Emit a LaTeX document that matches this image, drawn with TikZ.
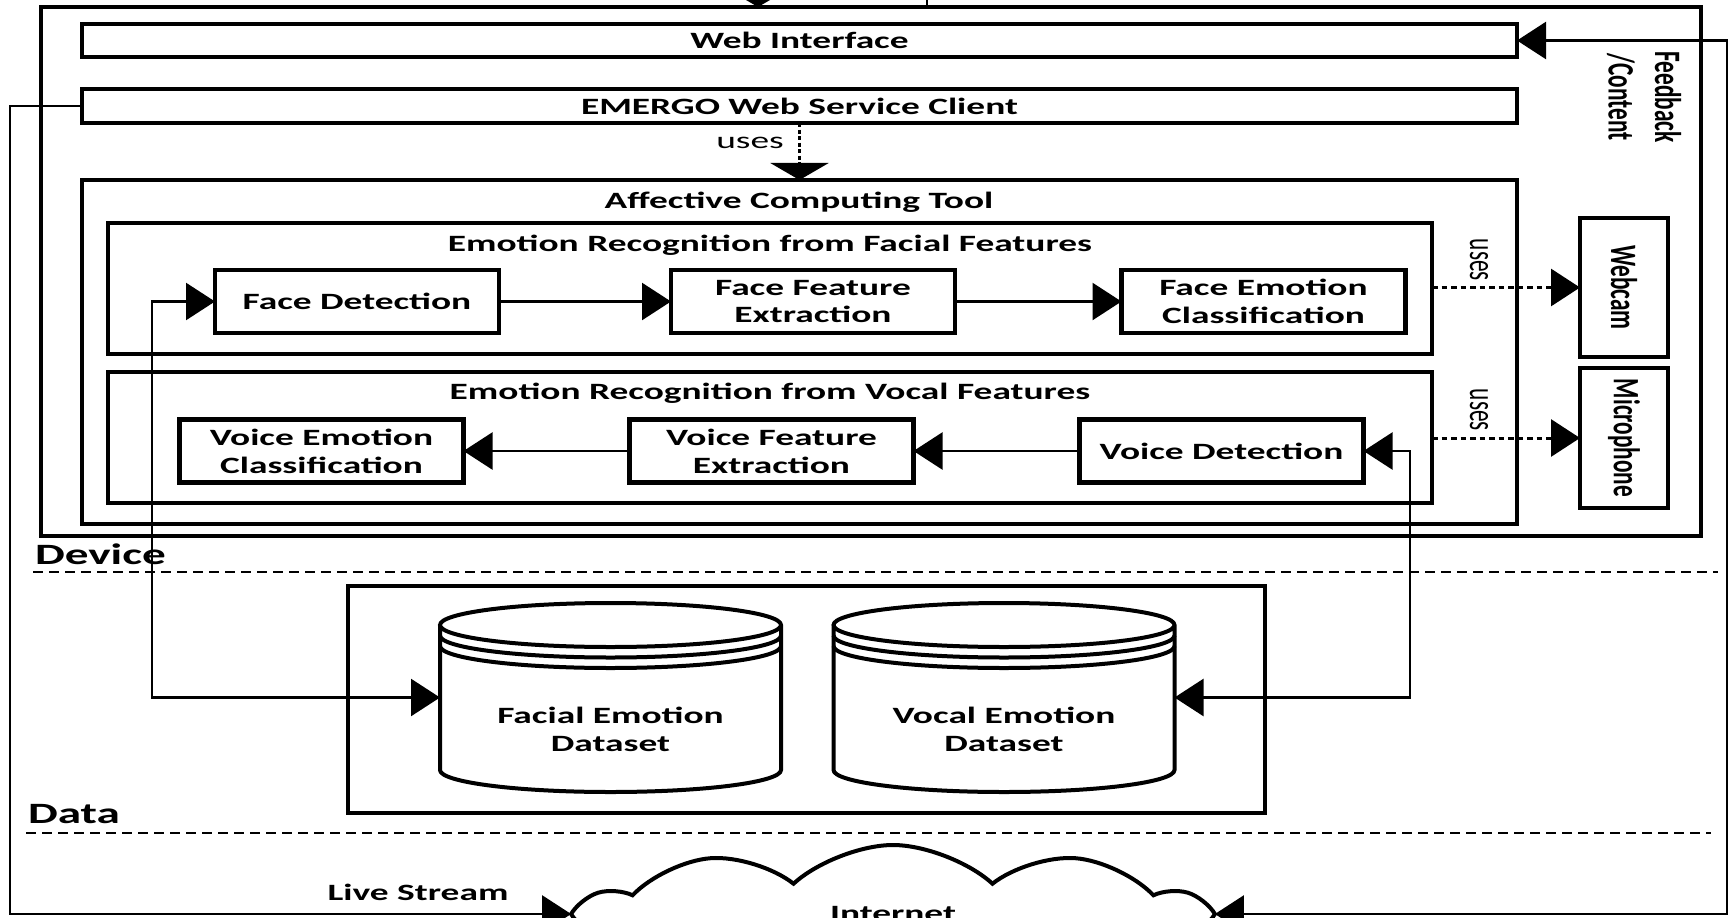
\documentclass[tikz,border=0pt]{standalone}
\usepackage{fontspec}
\setmainfont{Carlito}[FakeStretch=1.6]
\newfontfamily\rotfont{Carlito}[FakeStretch=0.625]
\usepackage{tikz}
\usetikzlibrary{shapes,arrows.meta}

% cylinder outline drawn round an (empty) dataset node
\newcommand{\dbshape}[1]{%
  \draw[dbline] ([yshift=-4.4mm]#1.north west) -- ([yshift=4.4mm]#1.south west)
    arc[start angle=180,end angle=360,x radius=34.1mm,y radius=4.4mm]
    -- ([yshift=-4.4mm]#1.north east)
    arc[start angle=0,end angle=180,x radius=34.1mm,y radius=4.4mm]
    arc[start angle=180,end angle=360,x radius=34.1mm,y radius=4.4mm];
  \draw[dbline] ([yshift=-6.5mm]#1.north west)
    arc[start angle=180,end angle=360,x radius=34.1mm,y radius=4.4mm];
  \draw[dbline] ([yshift=-8.6mm]#1.north west)
    arc[start angle=180,end angle=360,x radius=34.1mm,y radius=4.4mm];
}

\begin{document}
\begin{tikzpicture}[x=1mm,y=1mm,>={Triangle[length=5.8mm,width=7.4mm]}]
\tikzstyle{every node}=[font=\fontsize{13.3}{15.8}\selectfont\bfseries, inner sep=0pt, outer sep=0pt]
\tikzstyle{frame}=[draw, line width=0.9mm]
\tikzstyle{box}=[frame, align=center, minimum width=56.8mm, minimum height=12.6mm]
\tikzstyle{conn}=[line width=0.5mm]
\tikzstyle{usesline}=[line width=0.6mm, dash pattern=on 1.1mm off 0.8mm]
\tikzstyle{usesdot}=[line width=0.6mm, dash pattern=on 0.8mm off 0.5mm]
\tikzstyle{sepline}=[line width=0.35mm, dash pattern=on 2mm off 1.2mm]
\tikzstyle{dbline}=[line width=0.8mm]
\tikzstyle{dbase}=[minimum width=68.2mm, minimum height=37.8mm]
\tikzstyle{plain}=[font=\fontsize{13.3}{15.8}\selectfont]
\tikzstyle{rotplain}=[rotate=-90, font=\rotfont\fontsize{21.2}{26.5}\selectfont]
\tikzstyle{rotbold}=[rotate=-90, align=center, font=\rotfont\fontsize{21.2}{26.5}\selectfont\bfseries]
\tikzstyle{seclbl}=[anchor=west, font=\fontsize{16.8}{20}\selectfont\bfseries]
\tikzstyle{vtip}=[-{Triangle[length=3.4mm,width=11.6mm]}]

\useasboundingbox (0,0) rectangle (346.6,-183.4);

% device layer
\node[frame, minimum width=332mm, minimum height=105.8mm] (device) at (174.2,-54.3) {};
\node[frame, minimum width=287mm, minimum height=6.6mm] (webif) at (159.9,-8.1) {Web Interface};
\node[frame, minimum width=287mm, minimum height=6.8mm] (client) at (159.9,-21.2) {EMERGO Web Service Client};
\node[frame, minimum width=287mm, minimum height=68.8mm] (act) at (159.9,-70.4) {};
\node (acttitle) at (159.8,-40.4) {Affective Computing Tool};

\node[frame, minimum width=264.8mm, minimum height=26.2mm] (facial) at (154,-57.7) {};
\node (facialtitle) at (154,-49) {Emotion Recognition from Facial Features};
\node[box] (facedet) at (71.4,-60.3) {Face Detection};
\node[box] (facefeat) at (162.6,-60.3) {Face Feature\\Extraction};
\node[box] (faceemo) at (252.7,-60.3) {Face Emotion\\Classification};

\node[frame, minimum width=264.8mm, minimum height=26.2mm] (vocal) at (154,-87.5) {};
\node (vocaltitle) at (154,-78.6) {Emotion Recognition from Vocal Features};
\node[box] (voiceemo) at (64.3,-90.2) {Voice Emotion\\Classification};
\node[box] (voicefeat) at (154.3,-90.2) {Voice Feature\\Extraction};
\node[box] (voicedet) at (244.3,-90.2) {Voice Detection};

\node[frame, minimum width=17.6mm, minimum height=27.8mm] (webcam) at (324.8,-57.5) {};
\node[rotbold] (webcamtext) at (webcam.center) {Webcam};
\node[frame, minimum width=17.6mm, minimum height=28mm] (mic) at (324.8,-87.6) {};
\node[rotbold] (mictext) at (mic.center) {Microphone};

\draw[conn,->] (facedet) -- (facefeat);
\draw[conn,->] (facefeat) -- (faceemo);
\draw[conn,->] (voicedet) -- (voicefeat);
\draw[conn,->] (voicefeat) -- (voiceemo);

\draw[usesdot,vtip] (client.south) -- (act.north);
\node[plain] (usesact) at (150,-28.6) {uses};
\draw[usesline,->] (facial.east |- webcam.west) -- (webcam.west);
\node[rotplain] (usescam) at (295.8,-52) {uses};
\draw[usesline,->] (vocal.east |- mic.west) -- (mic.west);
\node[rotplain] (usesmic) at (295.8,-82) {uses};

% data layer
\node[seclbl] (devicelbl) at (7,-110.8) {Device};
\draw[sepline] (6.6,-114.4) -- (343.6,-114.4);
\node[frame, minimum width=183.4mm, minimum height=45.4mm] (datalayer) at (161.3,-139.9) {};
\node[dbase] (facialdb) at (122.1,-139.5) {};
\dbshape{facialdb}
\node[align=center] (facialdbtext) at ([yshift=-6.3mm]facialdb.center) {Facial Emotion\\Dataset};
\node[dbase] (vocaldb) at (200.8,-139.5) {};
\dbshape{vocaldb}
\node[align=center] (vocaldbtext) at ([yshift=-6.3mm]vocaldb.center) {Vocal Emotion\\Dataset};
\node[seclbl] (datalbl) at (5.6,-162.8) {Data};
\draw[sepline] (5.2,-166.6) -- (342.2,-166.6);

\draw[conn,<->] (facedet.west) -- ++(-12.6,0) |- (facialdb.west);
\draw[conn,<->] (voicedet.east) -- ++(9.3,0) |- (vocaldb.east);

% internet
\node[draw, cloud, cloud puffs=10, cloud puff arc=85, cloud ignores aspect, line width=0.8mm,
  minimum width=124mm, minimum height=27.6mm] (net) at (178.6,-182.8) {Internet};
\node (livelbl) at (83.6,-178.4) {Live Stream};
\draw[conn,->] (client.west) -- ++(-14.4,0) |- (net.west);
\draw[conn,<->] (webif.east) -- ++(42,0) |- (net.east);
\node[rotbold] (fblbl) at (328.8,-19.4) {Feedback\\/Content};

\coordinate (topin) at (151.6,6);
\coordinate (topout) at (185.4,6);
\draw[conn,vtip] (topin) -- (topin |- device.north);
\draw[conn] (topout) -- (topout |- device.north);
\end{tikzpicture}
\end{document}
